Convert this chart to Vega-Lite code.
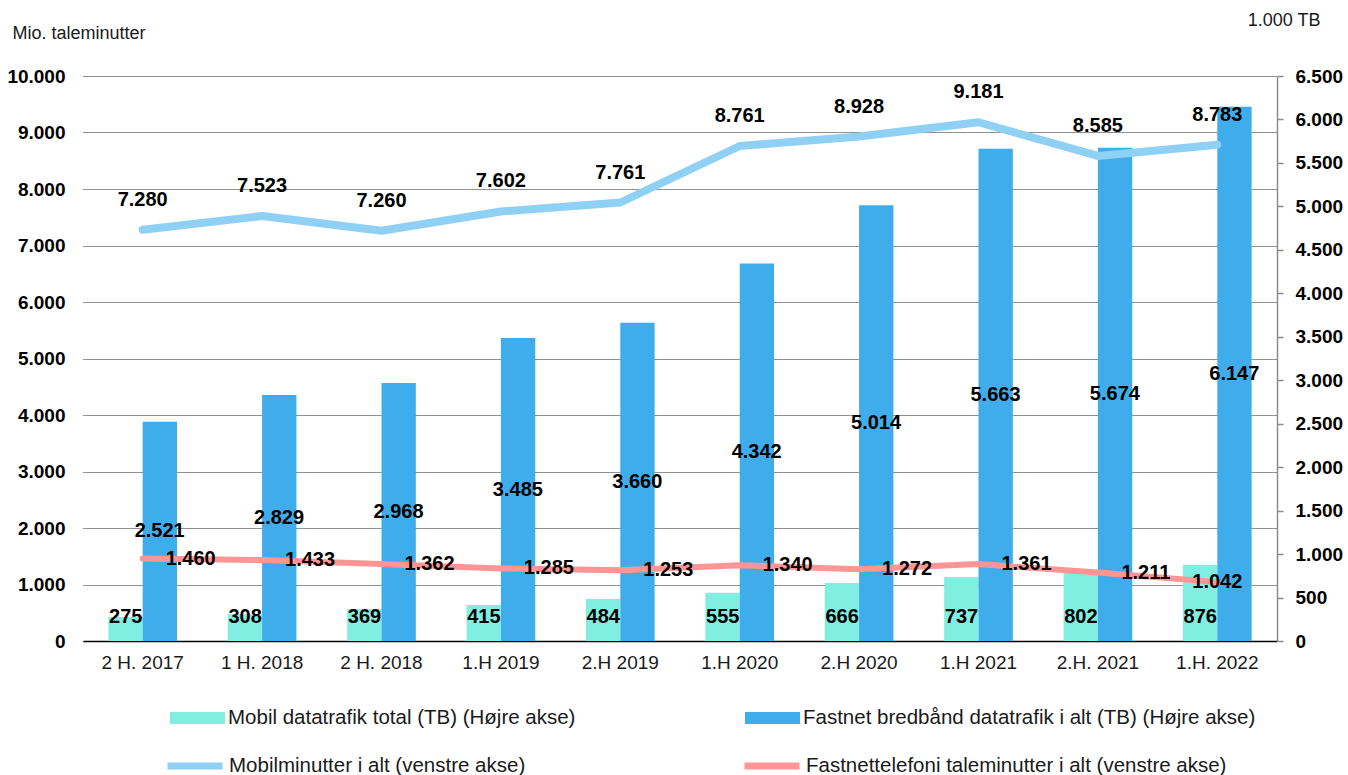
{
  "$schema": "https://vega.github.io/schema/vega-lite/v6.json",
  "width": 1194,
  "height": 565,
  "autosize": {"type": "none"},
  "padding": {"left": 83, "top": 76, "right": 71, "bottom": 134},
  "background": "#ffffff",
  "config": {
    "font": "Liberation Sans",
    "view": {"stroke": null},
    "locale": {"number": {"decimal": ",", "thousands": ".", "grouping": [3], "currency": ["", " kr."]}},
    "text": {"font": "Liberation Sans", "fontWeight": "bold", "fontSize": 20, "color": "#000000", "baseline": "middle", "align": "center"}
  },
  "datasets": {
    "bars": [
      {"p": "2 H. 2017", "s": "Mobil datatrafik total (TB) (Højre akse)", "v": 275},
      {"p": "2 H. 2017", "s": "Fastnet bredbånd datatrafik i alt (TB) (Højre akse)", "v": 2521},
      {"p": "1 H. 2018", "s": "Mobil datatrafik total (TB) (Højre akse)", "v": 308},
      {"p": "1 H. 2018", "s": "Fastnet bredbånd datatrafik i alt (TB) (Højre akse)", "v": 2829},
      {"p": "2 H. 2018", "s": "Mobil datatrafik total (TB) (Højre akse)", "v": 369},
      {"p": "2 H. 2018", "s": "Fastnet bredbånd datatrafik i alt (TB) (Højre akse)", "v": 2968},
      {"p": "1.H 2019", "s": "Mobil datatrafik total (TB) (Højre akse)", "v": 415},
      {"p": "1.H 2019", "s": "Fastnet bredbånd datatrafik i alt (TB) (Højre akse)", "v": 3485},
      {"p": "2.H 2019", "s": "Mobil datatrafik total (TB) (Højre akse)", "v": 484},
      {"p": "2.H 2019", "s": "Fastnet bredbånd datatrafik i alt (TB) (Højre akse)", "v": 3660},
      {"p": "1.H 2020", "s": "Mobil datatrafik total (TB) (Højre akse)", "v": 555},
      {"p": "1.H 2020", "s": "Fastnet bredbånd datatrafik i alt (TB) (Højre akse)", "v": 4342},
      {"p": "2.H 2020", "s": "Mobil datatrafik total (TB) (Højre akse)", "v": 666},
      {"p": "2.H 2020", "s": "Fastnet bredbånd datatrafik i alt (TB) (Højre akse)", "v": 5014},
      {"p": "1.H 2021", "s": "Mobil datatrafik total (TB) (Højre akse)", "v": 737},
      {"p": "1.H 2021", "s": "Fastnet bredbånd datatrafik i alt (TB) (Højre akse)", "v": 5663},
      {"p": "2.H. 2021", "s": "Mobil datatrafik total (TB) (Højre akse)", "v": 802},
      {"p": "2.H. 2021", "s": "Fastnet bredbånd datatrafik i alt (TB) (Højre akse)", "v": 5674},
      {"p": "1.H. 2022", "s": "Mobil datatrafik total (TB) (Højre akse)", "v": 876},
      {"p": "1.H. 2022", "s": "Fastnet bredbånd datatrafik i alt (TB) (Højre akse)", "v": 6147}
    ],
    "lines": [
      {"p": "2 H. 2017", "s": "Mobilminutter i alt (venstre akse)", "v": 7280},
      {"p": "1 H. 2018", "s": "Mobilminutter i alt (venstre akse)", "v": 7523},
      {"p": "2 H. 2018", "s": "Mobilminutter i alt (venstre akse)", "v": 7260},
      {"p": "1.H 2019", "s": "Mobilminutter i alt (venstre akse)", "v": 7602},
      {"p": "2.H 2019", "s": "Mobilminutter i alt (venstre akse)", "v": 7761},
      {"p": "1.H 2020", "s": "Mobilminutter i alt (venstre akse)", "v": 8761},
      {"p": "2.H 2020", "s": "Mobilminutter i alt (venstre akse)", "v": 8928},
      {"p": "1.H 2021", "s": "Mobilminutter i alt (venstre akse)", "v": 9181},
      {"p": "2.H. 2021", "s": "Mobilminutter i alt (venstre akse)", "v": 8585},
      {"p": "1.H. 2022", "s": "Mobilminutter i alt (venstre akse)", "v": 8783},
      {"p": "2 H. 2017", "s": "Fastnettelefoni taleminutter i alt (venstre akse)", "v": 1460},
      {"p": "1 H. 2018", "s": "Fastnettelefoni taleminutter i alt (venstre akse)", "v": 1433},
      {"p": "2 H. 2018", "s": "Fastnettelefoni taleminutter i alt (venstre akse)", "v": 1362},
      {"p": "1.H 2019", "s": "Fastnettelefoni taleminutter i alt (venstre akse)", "v": 1285},
      {"p": "2.H 2019", "s": "Fastnettelefoni taleminutter i alt (venstre akse)", "v": 1253},
      {"p": "1.H 2020", "s": "Fastnettelefoni taleminutter i alt (venstre akse)", "v": 1340},
      {"p": "2.H 2020", "s": "Fastnettelefoni taleminutter i alt (venstre akse)", "v": 1272},
      {"p": "1.H 2021", "s": "Fastnettelefoni taleminutter i alt (venstre akse)", "v": 1361},
      {"p": "2.H. 2021", "s": "Fastnettelefoni taleminutter i alt (venstre akse)", "v": 1211},
      {"p": "1.H. 2022", "s": "Fastnettelefoni taleminutter i alt (venstre akse)", "v": 1042}
    ]
  },
  "encoding": {
    "x": {
      "field": "p",
      "type": "nominal",
      "title": null,
      "scale": {
        "type": "band",
        "domain": ["2 H. 2017", "1 H. 2018", "2 H. 2018", "1.H 2019", "2.H 2019", "1.H 2020", "2.H 2020", "1.H 2021", "2.H. 2021", "1.H. 2022"],
        "paddingInner": 0.425,
        "paddingOuter": 0.2125
      },
      "axis": {
        "labelAngle": 0,
        "ticks": false,
        "grid": false,
        "domain": true,
        "domainColor": "#000000",
        "domainWidth": 1.5,
        "labelFontSize": 19,
        "labelFontWeight": "normal",
        "labelColor": "#1a1a1a",
        "labelPadding": 12
      }
    }
  },
  "layer": [
    {
      "data": {"name": "bars"},
      "mark": {"type": "bar"},
      "encoding": {
        "xOffset": {
          "field": "s",
          "type": "nominal",
          "scale": {
            "domain": ["Mobil datatrafik total (TB) (Højre akse)", "Fastnet bredbånd datatrafik i alt (TB) (Højre akse)"],
            "paddingInner": 0,
            "paddingOuter": 0
          }
        },
        "y": {
          "field": "v",
          "type": "quantitative",
          "scale": {"domain": [0, 6500], "nice": false},
          "axis": {
            "orient": "right",
            "values": [0, 500, 1000, 1500, 2000, 2500, 3000, 3500, 4000, 4500, 5000, 5500, 6000, 6500],
            "format": ",d",
            "grid": false,
            "domain": true,
            "domainColor": "#8c8c8c",
            "domainWidth": 1.5,
            "ticks": true,
            "tickColor": "#8c8c8c",
            "tickSize": 6,
            "tickWidth": 1.5,
            "labelFontSize": 19,
            "labelFontWeight": "bold",
            "labelColor": "#000000",
            "labelPadding": 12,
            "labelFlush": false,
            "labelOverlap": false,
            "labelBound": false,
            "title": "1.000 TB",
            "titleAngle": 0,
            "titleX": 43,
            "titleY": -56,
            "titleAlign": "right",
            "titleBaseline": "middle",
            "titleFontSize": 18,
            "titleFontWeight": "normal",
            "titleColor": "#1a1a1a"
          }
        },
        "fill": {
          "field": "s",
          "type": "nominal",
          "scale": {
            "domain": ["Mobil datatrafik total (TB) (Højre akse)", "Fastnet bredbånd datatrafik i alt (TB) (Højre akse)"],
            "range": ["#80EEE0", "#3FADEB"]
          },
          "legend": {
            "orient": "none",
            "legendX": 87,
            "legendY": 614.5,
            "direction": "horizontal",
            "title": null,
            "padding": 0,
            "symbolType": "M-1,-0.22H1V0.22H-1Z",
            "symbolSize": 3025,
            "symbolStrokeWidth": 0,
            "labelFontSize": 20.5,
            "labelColor": "#1a1a1a",
            "labelLimit": 800,
            "labelOffset": 3,
            "columnPadding": 169
          }
        }
      }
    },
    {
      "data": {"name": "lines"},
      "encoding": {
        "y": {
          "field": "v",
          "type": "quantitative",
          "scale": {"domain": [0, 10000], "nice": false},
          "axis": {
            "orient": "left",
            "values": [0, 1000, 2000, 3000, 4000, 5000, 6000, 7000, 8000, 9000, 10000],
            "format": ",d",
            "grid": true,
            "gridColor": "#222222",
            "gridDash": [1, 1],
            "gridWidth": 1,
            "domain": false,
            "ticks": false,
            "labelFontSize": 19,
            "labelFontWeight": "bold",
            "labelColor": "#000000",
            "labelPadding": 18,
            "labelFlush": false,
            "labelOverlap": false,
            "labelBound": false,
            "title": "Mio. taleminutter",
            "titleAngle": 0,
            "titleX": -71,
            "titleY": -43,
            "titleAlign": "left",
            "titleBaseline": "middle",
            "titleFontSize": 18,
            "titleFontWeight": "normal",
            "titleColor": "#1a1a1a"
          }
        }
      },
      "layer": [
        {
          "transform": [{"filter": {"field": "s", "equal": "Mobilminutter i alt (venstre akse)"}}],
          "mark": {"type": "line", "strokeWidth": 8, "strokeCap": "round", "strokeJoin": "round"},
          "encoding": {
            "stroke": {
              "field": "s",
              "type": "nominal",
              "scale": {
                "domain": ["Mobilminutter i alt (venstre akse)", "Fastnettelefoni taleminutter i alt (venstre akse)"],
                "range": ["#8FD0F5", "#FF9595"]
              },
              "legend": {
                "orient": "none",
                "legendX": 81,
                "legendY": 659,
                "direction": "horizontal",
                "title": null,
                "padding": 0,
                "symbolType": "stroke",
                "symbolSize": 3025,
                "symbolStrokeWidth": 7,
                "labelFontSize": 20.5,
                "labelColor": "#1a1a1a",
                "labelLimit": 800,
                "labelOffset": 3,
                "columnPadding": 204
              }
            }
          }
        },
        {
          "transform": [{"filter": {"field": "s", "equal": "Fastnettelefoni taleminutter i alt (venstre akse)"}}],
          "mark": {"type": "line", "strokeWidth": 6, "strokeCap": "round", "strokeJoin": "round"},
          "encoding": {
            "stroke": {
              "field": "s",
              "type": "nominal",
              "scale": {
                "domain": ["Mobilminutter i alt (venstre akse)", "Fastnettelefoni taleminutter i alt (venstre akse)"],
                "range": ["#8FD0F5", "#FF9595"]
              },
              "legend": {
                "orient": "none",
                "legendX": 81,
                "legendY": 659,
                "direction": "horizontal",
                "title": null,
                "padding": 0,
                "symbolType": "stroke",
                "symbolSize": 3025,
                "symbolStrokeWidth": 7,
                "labelFontSize": 20.5,
                "labelColor": "#1a1a1a",
                "labelLimit": 800,
                "labelOffset": 3,
                "columnPadding": 204
              }
            }
          }
        },
        {
          "transform": [{"filter": {"field": "s", "equal": "Mobilminutter i alt (venstre akse)"}}],
          "mark": {"type": "text", "dy": -30},
          "encoding": {"text": {"field": "v", "type": "quantitative", "format": ","}}
        },
        {
          "transform": [{"filter": {"and": [{"field": "s", "equal": "Fastnettelefoni taleminutter i alt (venstre akse)"}, {"not": {"field": "p", "equal": "1.H. 2022"}}]}}],
          "mark": {"type": "text", "dx": 48},
          "encoding": {"text": {"field": "v", "type": "quantitative", "format": ","}}
        },
        {
          "transform": [{"filter": {"and": [{"field": "s", "equal": "Fastnettelefoni taleminutter i alt (venstre akse)"}, {"field": "p", "equal": "1.H. 2022"}]}}],
          "mark": {"type": "text", "dx": 0},
          "encoding": {"text": {"field": "v", "type": "quantitative", "format": ","}}
        }
      ]
    },
    {
      "data": {"name": "bars"},
      "transform": [{"filter": {"field": "s", "equal": "Mobil datatrafik total (TB) (Højre akse)"}}],
      "mark": {"type": "text", "dx": -17, "dy": -24},
      "encoding": {
        "y": {"datum": 0, "type": "quantitative", "scale": {"domain": [0, 6500], "nice": false}, "axis": null},
        "text": {"field": "v", "type": "quantitative", "format": ","}
      }
    },
    {
      "data": {"name": "bars"},
      "transform": [{"filter": {"field": "s", "equal": "Fastnet bredbånd datatrafik i alt (TB) (Højre akse)"}}],
      "mark": {"type": "text", "dx": 17},
      "encoding": {
        "y": {"field": "v", "type": "quantitative", "scale": {"domain": [0, 13000], "nice": false}, "axis": null},
        "text": {"field": "v", "type": "quantitative", "format": ","}
      }
    }
  ],
  "resolve": {"scale": {"y": "independent"}}
}
